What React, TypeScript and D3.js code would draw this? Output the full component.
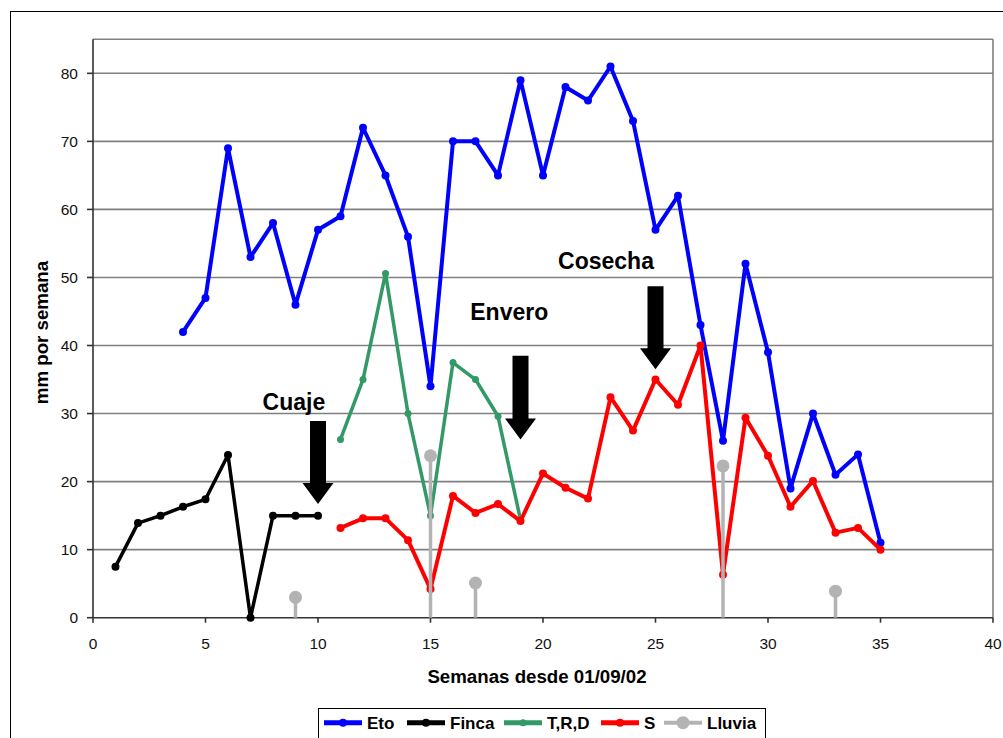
import * as d3 from 'd3';

const etoWeeks = [4, 5, 6, 7, 8, 9, 10, 11, 12, 13, 14, 15, 16, 17, 18, 19, 20, 21, 22, 23, 24, 25, 26, 27, 28, 29, 30, 31, 32, 33, 34, 35];
const etoValues = [42, 47, 69, 53, 58, 46, 57, 59, 72, 65, 56, 34, 70, 70, 65, 79, 65, 78, 76, 81, 73, 57, 62, 43, 26, 52, 39, 19, 30, 21, 24, 11];

const fincaWeeks = [1, 2, 3, 4, 5, 6, 7, 8, 9, 10];
const fincaValues = [7.5, 13.9, 15, 16.3, 17.4, 23.9, 0, 15, 15, 15];

const trdWeeks = [11, 12, 13, 14, 15, 16, 17, 18, 19];
const trdValues = [26.2, 35, 50.6, 30, 15, 37.5, 35, 29.6, 14.4];

const sWeeks = [11, 12, 13, 14, 15, 16, 17, 18, 19, 20, 21, 22, 23, 24, 25, 26, 27, 28, 29, 30, 31, 32, 33, 34, 35];
const sValues = [13.2, 14.6, 14.6, 11.4, 4.2, 17.9, 15.4, 16.7, 14.2, 21.2, 19.1, 17.5, 32.4, 27.5, 35, 31.3, 40, 6.3, 29.4, 23.8, 16.3, 20.1, 12.5, 13.2, 10];

const lluviaWeeks = [9, 15, 17, 28, 33];
const lluviaValues = [3, 23.8, 5.1, 22.3, 3.9];

const yTicks = [0, 10, 20, 30, 40, 50, 60, 70, 80];
const xTicks = [0, 5, 10, 15, 20, 25, 30, 35, 40];

// annotation arrows: x week, top of shaft and tip in y units
const arrows = [
  { label: 'Cuaje', week: 10, top: 28.9, tip: 16.7, lx: 8.93, ly: 30.5 },
  { label: 'Envero', week: 19, top: 38.5, tip: 26.2, lx: 18.5, ly: 43.8 },
  { label: 'Cosecha', week: 25, top: 48.7, tip: 36.5, lx: 22.8, ly: 51.2 },
];

const FONT = '"Liberation Sans", Arial, sans-serif';

const series = [
  { name: 'Eto', weeks: etoWeeks, values: etoValues, color: '#0000FF', width: 4, r: 4 },
  { name: 'Finca', weeks: fincaWeeks, values: fincaValues, color: '#000000', width: 3.5, r: 4 },
  { name: 'T,R,D', weeks: trdWeeks, values: trdValues, color: '#339966', width: 3.5, r: 3.5 },
  { name: 'S', weeks: sWeeks, values: sValues, color: '#FF0000', width: 4, r: 4 },
];

const legendItems = [
  { name: 'Eto', color: '#0000FF', x: 324, r: 4 },
  { name: 'Finca', color: '#000000', x: 407, r: 4 },
  { name: 'T,R,D', color: '#339966', x: 504, r: 3.5 },
  { name: 'S', color: '#FF0000', x: 601, r: 4 },
  { name: 'Lluvia', color: '#B3B3B3', x: 664, r: 6.5 },
];

export default function App() {
  const left = 93, right = 993, top = 39.3, bottom = 617.7;
  const x = d3.scaleLinear().domain([0, 40]).range([left, right]);
  const y = d3.scaleLinear().domain([0, 85]).range([bottom, top]);

  const line = d3.line<[number, number]>()
    .x(d => x(d[0]))
    .y(d => y(d[1]));

  const arrowPath = (a: typeof arrows[0]) => {
    const tx = x(a.week), ty = y(a.tip), py = y(a.top);
    const sw = 8, hw = 15.5, hl = 21;
    return `M${tx - sw},${py}L${tx + sw},${py}L${tx + sw},${ty - hl}L${tx + hw},${ty - hl}L${tx},${ty}L${tx - hw},${ty - hl}L${tx - sw},${ty - hl}Z`;
  };

  return (
    <svg width={1003} height={738} style={{ position: 'absolute', left: 0, top: 0, background: '#fff' }} fontFamily={FONT}>
      <rect x={10.5} y={11.5} width={1000} height={800} fill="#fff" stroke="#000" strokeWidth={1} />

      {/* grid */}
      {yTicks.filter(t => t > 0).map(t => (
        <line key={t} x1={left} x2={right} y1={y(t)} y2={y(t)} stroke="#808080" strokeWidth={1.6} />
      ))}
      <line x1={left} x2={right} y1={top} y2={top} stroke="#808080" strokeWidth={1.6} />
      <line x1={right} x2={right} y1={top} y2={bottom} stroke="#808080" strokeWidth={1.6} />

      {/* axes */}
      <line x1={left} x2={left} y1={top} y2={bottom} stroke="#333" strokeWidth={1.6} />
      <line x1={left} x2={right} y1={bottom} y2={bottom} stroke="#333" strokeWidth={1.6} />
      {yTicks.map(t => (
        <g key={t}>
          <line x1={left - 6} x2={left} y1={y(t)} y2={y(t)} stroke="#333" strokeWidth={1.6} />
          <text x={78} y={y(t) + 5.5} textAnchor="end" fontSize={15.5} fill="#111">{t}</text>
        </g>
      ))}
      {xTicks.map(t => (
        <g key={t}>
          <line x1={x(t)} x2={x(t)} y1={bottom} y2={bottom + 5} stroke="#333" strokeWidth={1.6} />
          <text x={x(t)} y={648.5} textAnchor="middle" fontSize={15.5} fill="#111">{t}</text>
        </g>
      ))}

      <text x={537} y={683} textAnchor="middle" fontSize={18.7} fontWeight="bold">Semanas desde 01/09/02</text>
      <text transform={`translate(48,${(top + bottom) / 2 + 4}) rotate(-90)`} textAnchor="middle" fontSize={18.7} fontWeight="bold">mm por semana</text>

      {/* series */}
      {series.map(s => {
        const pts = s.weeks.map((w, i) => [w, s.values[i]] as [number, number]);
        return (
          <g key={s.name}>
            <path d={line(pts) ?? ''} fill="none" stroke={s.color} strokeWidth={s.width} strokeLinejoin="round" />
            {pts.map((p, i) => (
              <circle key={i} cx={x(p[0])} cy={y(p[1])} r={s.r} fill={s.color} />
            ))}
          </g>
        );
      })}

      {/* rain */}
      {lluviaWeeks.map((w, i) => (
        <g key={w}>
          <line x1={x(w)} x2={x(w)} y1={y(0)} y2={y(lluviaValues[i])} stroke="#B3B3B3" strokeWidth={3.5} />
          <circle cx={x(w)} cy={y(lluviaValues[i])} r={6.5} fill="#B3B3B3" />
        </g>
      ))}

      {/* annotations */}
      {arrows.map(a => (
        <g key={a.label}>
          <path d={arrowPath(a)} fill="#000" />
          <text x={x(a.lx)} y={y(a.ly)} textAnchor="middle" fontSize={23} fontWeight="bold">{a.label}</text>
        </g>
      ))}

      {/* legend */}
      <rect x={318.5} y={708.5} width={447} height={40} fill="#fff" stroke="#000" strokeWidth={1} />
      {legendItems.map(l => (
        <g key={l.name}>
          <line x1={l.x} x2={l.x + 38} y1={722.7} y2={722.7} stroke={l.color} strokeWidth={l.name === 'Lluvia' ? 4 : 5} />
          <circle cx={l.x + 19} cy={722.7} r={l.r} fill={l.color} />
          <text x={l.x + 43} y={729} fontSize={17} fontWeight="bold">{l.name}</text>
        </g>
      ))}
    </svg>
  );
}
